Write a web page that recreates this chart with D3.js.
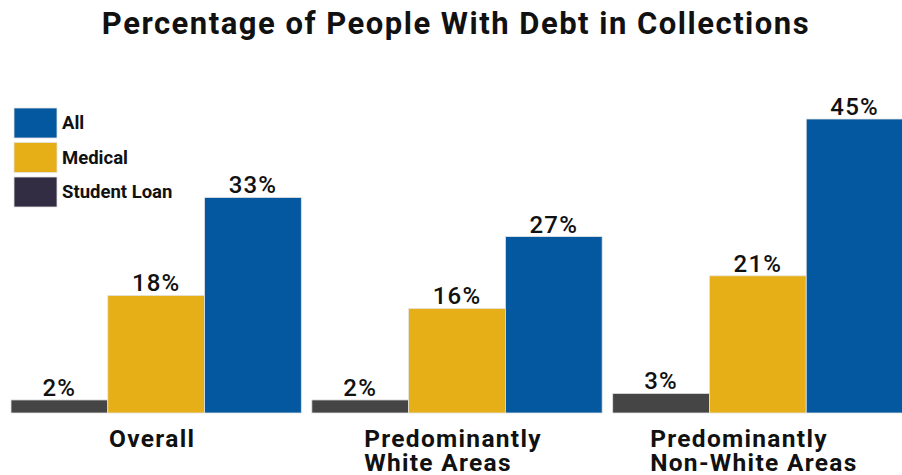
<!DOCTYPE html>
<html>
<script src="https://d3js.org/d3.v7.min.js"></script>
<style>
    body {
        margin: 0;
        background: #fff;
    }

    text {
        font-family: Roboto, sans-serif;
    }
</style>

<body>
</body>
<script>
    const width = 902,
        height = 475;

    const groups = ["Overall", "Predominantly White Areas", "Predominantly Non-White Areas"];
    const groupLines = [["Overall"], ["Predominantly", "White Areas"], ["Predominantly", "Non-White Areas"]];
    const series = ["Student Loan", "Medical", "All"];
    const studentLoan = [2, 2, 3];
    const medical = [18, 16, 21];
    const all = [33, 27, 45];
    const legendOrder = ["All", "Medical", "Student Loan"];

    const barColor = { "Student Loan": "#454545", "Medical": "#e6ae17", "All": "#03589f" };
    const swatchColor = { "Student Loan": "#322d42", "Medical": "#e6ae17", "All": "#03589f" };

    const data = groups.map((g, i) => ({
        group: g,
        lines: groupLines[i],
        values: [
            { key: "Student Loan", value: studentLoan[i] },
            { key: "Medical", value: medical[i] },
            { key: "All", value: all[i] }
        ]
    }));

    const svg = d3.select("body").append("svg").attr("width", width).attr("height", height);

    const x0 = d3.scaleBand()
        .domain(groups)
        .range([11, 903])
        .paddingInner(0.035)
        .paddingOuter(0);
    const x1 = d3.scaleBand()
        .domain(series)
        .range([0, x0.bandwidth()]);
    const y = d3.scaleLinear()
        .domain([0, 45])
        .range([413, 119]);

    svg.append("text")
        .attr("x", 456)
        .attr("y", 34)
        .attr("text-anchor", "middle")
        .attr("font-size", 31)
        .attr("font-weight", 700)
        .attr("letter-spacing", 1.5)
        .attr("fill", "#111")
        .text("Percentage of People With Debt in Collections");

    const group = svg.selectAll(".grp")
        .data(data)
        .join("g")
        .attr("class", "grp")
        .attr("transform", d => `translate(${x0(d.group)},0)`);

    group.selectAll("rect")
        .data(d => d.values)
        .join("rect")
        .attr("x", d => x1(d.key))
        .attr("y", d => y(d.value))
        .attr("width", x1.bandwidth())
        .attr("height", d => y(0) - y(d.value))
        .attr("fill", d => barColor[d.key])
        .attr("stroke", "#e4e4e4")
        .attr("stroke-width", 0.8);

    group.selectAll(".val")
        .data(d => d.values)
        .join("text")
        .attr("class", "val")
        .attr("x", d => x1(d.key) + x1.bandwidth() / 2)
        .attr("y", d => y(d.value) - 4)
        .attr("text-anchor", "middle")
        .attr("font-size", 24)
        .attr("font-weight", 500)
        .attr("letter-spacing", 1.2)
        .attr("fill", "#111")
        .text(d => d.value + "%");

    // category labels: left-aligned lines, block roughly centred under the group
    group.each(function (d) {
        const g = d3.select(this);
        const t = g.append("text")
            .attr("font-size", 24.5)
            .attr("font-weight", 700)
            .attr("letter-spacing", 1.3)
            .attr("fill", "#111");
        d.lines.forEach((line, i) => {
            t.append("tspan")
                .attr("x", 0)
                .attr("y", 447 + i * 23.5)
                .text(line);
        });
        const w = t.node().getBBox().width;
        const left = x0.bandwidth() / 2 - w / 2 - 4;
        t.selectAll("tspan").attr("x", left);
    });

    const legend = svg.append("g").attr("transform", "translate(14,108)");
    const item = legend.selectAll("g")
        .data(legendOrder)
        .join("g")
        .attr("transform", (d, i) => `translate(0,${i * 34.5})`);
    item.append("rect")
        .attr("width", 43)
        .attr("height", 30)
        .attr("fill", d => swatchColor[d])
        .attr("stroke", "#e4e4e4")
        .attr("stroke-width", 0.8);
    item.append("text")
        .attr("x", 48)
        .attr("y", 21)
        .attr("font-size", 18.5)
        .attr("font-weight", 700)
        .attr("fill", "#111")
        .text(d => d);
</script>

</html>
